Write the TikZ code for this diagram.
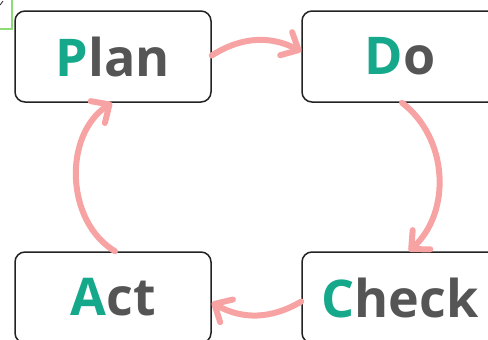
\documentclass[tikz,border=0pt]{standalone}
\usepackage{fontspec}
\setmainfont{Open Sans}
\usetikzlibrary{arrows.meta}
\definecolor{PdcaGreen}{RGB}{ 22, 168, 138}
\definecolor{PdcaGray}{RGB}{ 85, 85, 85}
\definecolor{PdcaPink}{RGB}{ 247, 163, 163}
\definecolor{PdcaFrame}{RGB}{ 34, 34, 34}
\definecolor{PdcaMark}{RGB}{ 140, 220, 120}
\newcommand{\pdca}[2]{{\color{PdcaGreen}#1}{\color{PdcaGray}#2}}

\begin{document}
\begin{tikzpicture}[x=1pt, y=-1pt]
      \tikzstyle{stage}=[draw=PdcaFrame, line width=1.5pt, rounded corners=10pt,
        minimum width=196pt, minimum height=91pt, inner sep=0pt,
        font=\fontsize{52}{60}\selectfont\bfseries];
      \tikzstyle{cycle}=[draw=PdcaPink, line width=6pt, line cap=round,
        -{Straight Barb[length=14pt, width=26pt, round]}];

      \clip (0, 0) rectangle (488, 340);
      \useasboundingbox (0, 0) rectangle (488, 340);

      % leftover marks in the corner
      \draw[PdcaMark, line width=1.5pt] (-5, 29) -- (12, 29) -- (12, -5);
      \draw[PdcaFrame, line width=.8pt] (0, 5) -- (3, 1);

      \node[stage] (plan) at (113, 56.5) {\pdca{P}{lan}};
      \node[stage] (do) at (400, 56.5) {\pdca{D}{o}};
      \node[stage] (check) at (400, 297.5) {\pdca{C}{heck}};
      \node[stage] (act) at (113, 297.5) {\pdca{A}{ct}};

      \draw[cycle] ([yshift=1pt]plan.east) to[bend left=30] ([yshift=5pt]do.west);
      \draw[cycle] ([xshift=2pt]do.south) to[bend left=50] ([xshift=9pt]check.north);
      \draw[cycle] ([yshift=-4pt]check.west) to[bend left=30] ([yshift=-5pt]act.east);
      \draw[cycle] ([xshift=2pt]act.north) to[bend left=58] ([xshift=-1pt]plan.south);
    \end{tikzpicture}
\end{document}
